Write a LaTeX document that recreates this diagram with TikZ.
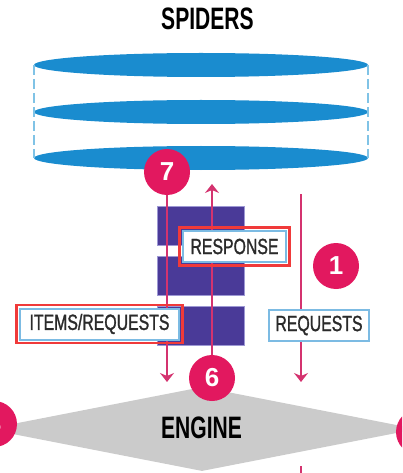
\documentclass[tikz,border=0pt]{standalone}
\usepackage{fontspec}
\usepackage{tikz}
\usetikzlibrary{shapes.geometric,arrows.meta,fit}

\newfontfamily\headfont[FakeStretch=0.68]{Liberation Sans}
\newfontfamily\labelfont[FakeStretch=0.72,FakeBold=1.2]{Liberation Sans}
\newfontfamily\numfont{Liberation Sans}

\definecolor{discblue}{HTML}{1A8CCF}
\definecolor{dashblue}{HTML}{80C3E6}
\definecolor{blockpurple}{HTML}{4A3A98}
\definecolor{blockedge}{HTML}{9D98D4}
\definecolor{flowpink}{HTML}{D4336F}
\definecolor{badgered}{HTML}{E2185F}
\definecolor{boxblue}{HTML}{7CBBE3}
\definecolor{framered}{HTML}{F03A3A}
\definecolor{enginegray}{HTML}{CBCBCB}
\definecolor{textdark}{HTML}{2A2A2A}

\tikzset{
  disc/.style={ellipse, fill=discblue, inner sep=0pt, minimum width=334pt, minimum height=24pt},
  sidedash/.style={dashblue, line width=2pt, dash pattern=on 10pt off 4pt},
  block/.style={rectangle, fill=blockpurple, draw=blockedge, line width=1pt, minimum width=87pt, minimum height=39pt, inner sep=0pt},
  flow/.style={flowpink, line width=1.8pt, -{Stealth[length=9pt, width=14pt, inset=3pt]}},
  plainflow/.style={flowpink, line width=1.8pt},
  tag/.style={rectangle, draw=boxblue, fill=white, line width=2pt, inner sep=0pt, minimum height=31pt, text=textdark, font=\labelfont\fontsize{22}{22}\selectfont},
  redframe/.style={rectangle, draw=framered, line width=2.5pt, inner sep=2.5pt},
  badge/.style={circle, fill=badgered, inner sep=0pt, minimum size=46pt, text=white, font=\numfont\bfseries\fontsize{26}{26}\selectfont},
  heading/.style={text=black, font=\headfont\bfseries\fontsize{31}{31}\selectfont},
  engine/.style={diamond, fill=enginegray, inner sep=0pt, minimum width=430pt, minimum height=84pt}
}

\begin{document}
\begin{tikzpicture}[x=1pt, y=-1pt]
  \useasboundingbox (0,0) rectangle (402,473);
  \clip (0,0) rectangle (402,473);

  \node[heading] (spiders) at (207.5,19) {SPIDERS};

  \node[disc] (s1) at (201,65) {};
  \node[disc] (s2) at (201,112) {};
  \node[disc] (s3) at (201,158) {};
  \draw[sidedash] (s1.west) -- (s3.west);
  \draw[sidedash] (s1.east) -- (s3.east);

  \node[block] (b1) at (200.5,225.5) {};
  \node[block] (b2) at (200.5,275.5) {};
  \node[block] (b3) at (200.5,325.5) {};

  \node[engine] (engine) at (202,429) {};
  \node[heading] (enginetxt) at (201.5,428) {ENGINE};

  \node[badge] (n7) at (167,172) {7};
  \node[badge] (n6) at (212,378) {6};
  \node[badge] (n1) at (336,266) {1};
  \node[badge] (n8) at (-6,424) {8};
  \node[badge] (n4) at (419,432) {4};

  \coordinate (e7) at (167,382);
  \coordinate (t6) at (212,184);
  \coordinate (r1) at (301,194);
  \coordinate (e1) at (301,382);
  \coordinate (r2) at (301,466);
  \coordinate (e2) at (301,480);
  \draw[flow] (n7) -- (e7);
  \draw[flow] (n6) -- (t6);
  \draw[flow] (r1) -- (e1);
  \draw[plainflow] (r2) -- (e2);

  \node[tag, minimum width=103pt] (resp) at (234.5,246.5) {RESPONSE};
  \node[redframe, fit=(resp)] (respframe) {};
  \node[tag, minimum width=159pt] (items) at (99.5,324) {ITEMS/REQUESTS};
  \node[redframe, fit=(items)] (itemsframe) {};
  \node[tag, minimum width=100pt] (reqs) at (319,325.5) {REQUESTS};
\end{tikzpicture}
\end{document}
